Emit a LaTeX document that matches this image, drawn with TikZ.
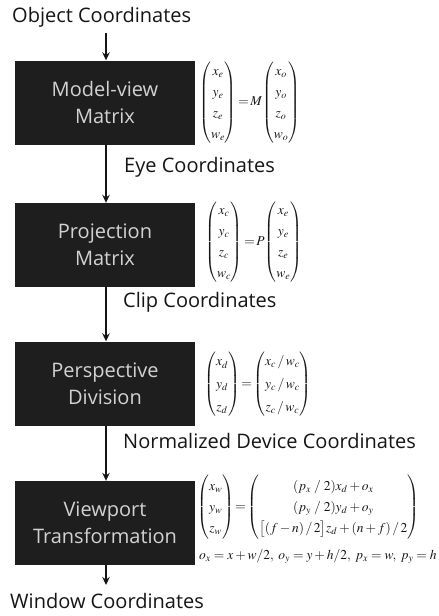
\documentclass[tikz,border=0pt]{standalone}
\usepackage{amsmath}
\usepackage{mathptmx}
\usepackage{fontspec}
\setmainfont{Open Sans}
\usetikzlibrary{arrows.meta}
\definecolor{boxfill}{HTML}{1E1E1E}
\definecolor{boxtext}{HTML}{D2D2D2}
\definecolor{ink}{HTML}{151515}
\begin{document}
\begin{tikzpicture}[x=1pt,y=-1pt,
  stage/.style={fill=boxfill, text=boxtext, minimum width=180pt, minimum height=84pt,
    inner sep=0pt, align=center, font=\fontsize{20}{27}\selectfont},
  lbl/.style={anchor=base west, inner sep=0pt, text=ink, font=\fontsize{20}{24}\selectfont},
  eq/.style={anchor=west, inner sep=0pt, text=ink, font=\fontsize{13.5}{16}\selectfont},
  flow/.style={draw=ink, line width=1.7pt, -{Stealth[length=8pt,width=7.5pt]}}]
\useasboundingbox (0,0) rectangle (439,616);

% pipeline stages
\node[stage] (mv) at (105,102.5) {Model-view\\Matrix};
\node[stage] (pr) at (105,245) {Projection\\Matrix};
\node[stage] (pd) at (105,383.5) {Perspective\\Division};
\node[stage] (vt) at (105,523) {Viewport\\Transformation};

% coordinate-space labels
\node[lbl] (obj) at (12,22) {Object Coordinates};
\node[lbl] (eye) at (124,172) {Eye Coordinates};
\node[lbl] (clip) at (123,307) {Clip Coordinates};
\node[lbl] (ndc) at (123,448) {Normalized Device Coordinates};
\node[lbl] (win) at (10,608) {Window Coordinates};

% flow arrows
\coordinate (top) at (106,33);
\coordinate (bot) at (106,585);
\draw[flow] (top) -- (top |- mv.north);
\draw[flow] (mv.south -| top) -- (pr.north -| top);
\draw[flow] (pr.south -| top) -- (pd.north -| top);
\draw[flow] (pd.south -| top) -- (vt.north -| top);
\draw[flow] (vt.south -| top) -- (bot);

% transformation equations
\renewcommand{\arraystretch}{1.32}
\node[eq] (e1) at (199,102.5) {$\begin{pmatrix} x_e\\ y_e\\ z_e\\ w_e\end{pmatrix}
  \!=\! M\!\begin{pmatrix} x_o\\ y_o\\ z_o\\ w_o\end{pmatrix}$};
\node[eq] (e2) at (205,242) {$\begin{pmatrix} x_c\\ y_c\\ z_c\\ w_c\end{pmatrix}
  \!=\! P\!\begin{pmatrix} x_e\\ y_e\\ z_e\\ w_e\end{pmatrix}$};
\node[eq] (e3) at (204,384) {\renewcommand{\arraystretch}{1.42}$\begin{pmatrix} x_d\\ y_d\\ z_d\end{pmatrix}
  \!=\!\begin{pmatrix} x_c\,/\,w_c\\ y_c\,/\,w_c\\ z_c\,/\,w_c\end{pmatrix}$};
\node[eq] (e4) at (197,507) {$\begin{pmatrix} x_w\\ y_w\\ z_w\end{pmatrix}
  \!=\!\begin{pmatrix} (p_x\;/\;2)x_d+o_x\\ (p_y\;/\;2)y_d+o_y\\
  \bigl[(f-n)\,/\,2\bigr]z_d+(n+f)\,/\,2\end{pmatrix}$};
\node[eq] (e5) at (199,556) {$o_x=x+w/2,\; o_y=y+h/2,\; p_x=w,\; p_y=h$};
\end{tikzpicture}
\end{document}
